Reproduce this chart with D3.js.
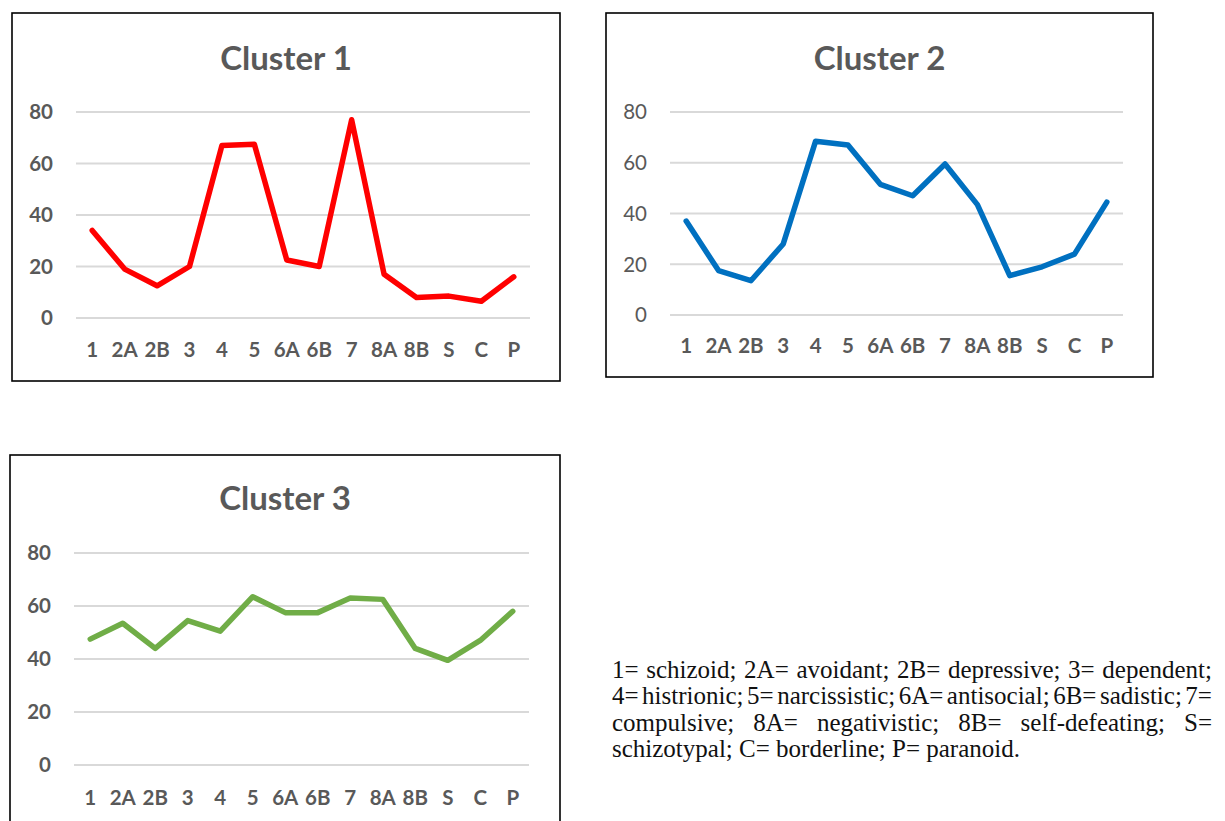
<!DOCTYPE html>
<html><head><meta charset="utf-8">
<script src="https://cdn.jsdelivr.net/npm/d3@7/dist/d3.min.js"></script>
<style>
body{margin:0;background:#fff;}
</style></head>
<body><svg id="chart" width="1225" height="821"></svg>
<script>
const categories = ["1","2A","2B","3","4","5","6A","6B","7","8A","8B","S","C","P"];
const yTicks = [0,20,40,60,80];
const cluster1 = [34,19,12.5,20,67,67.5,22.5,20,77,17,8,8.5,6.5,16];
const cluster2 = [37,17.5,13.5,28,68.5,67,51.5,47,59.5,43.5,15.5,19,24,44.5];
const cluster3 = [47.5,53.5,44,54.5,50.5,63.5,57.5,57.5,63,62.5,44,39.5,47,58];
const titles = ["Cluster 1","Cluster 2","Cluster 3"];
const colors = ["#ff0000","#0070c0","#70ad47"];
const legendLines = [
 "1= schizoid; 2A= avoidant; 2B= depressive; 3= dependent;",
 "4= histrionic; 5= narcissistic; 6A= antisocial; 6B= sadistic; 7=",
 "compulsive; 8A= negativistic; 8B= self-defeating; S=",
 "schizotypal; C= borderline; P= paranoid."
];

const panels = [
 {data:cluster1, box:[12,13,548,368], x:[76,530], y:[318,112], yBold:true, titleY:70, xlabY:357},
 {data:cluster2, box:[606,13,547,364], x:[670,1123], y:[315,112], yBold:false, titleY:70, xlabY:353},
 {data:cluster3, box:[10,455,550,400], x:[74,529], y:[765,553], yBold:true, titleY:510, xlabY:805}
];

const svg = d3.select("#chart");
const font = "Lato, 'Open Sans', sans-serif";
const gray = "#595959";

panels.forEach((p,i)=>{
  const g = svg.append("g");
  g.append("rect").attr("x",p.box[0]).attr("y",p.box[1]).attr("width",p.box[2]).attr("height",p.box[3])
   .attr("fill","#fff").attr("stroke","#000").attr("stroke-width",1.6);
  const x = d3.scalePoint().domain(categories).range(p.x).padding(0.5);
  const y = d3.scaleLinear().domain([0,80]).range(p.y);
  g.selectAll(".grid").data(yTicks).join("line")
   .attr("x1",p.x[0]).attr("x2",p.x[1]).attr("y1",d=>y(d)).attr("y2",d=>y(d))
   .attr("stroke","#d9d9d9").attr("stroke-width",2);
  g.selectAll(".yl").data(yTicks).join("text")
   .attr("x",p.x[0]-23).attr("y",d=>y(d)).attr("dy","0.36em")
   .attr("text-anchor","end").attr("font-family",font).attr("font-size",20.5)
   .attr("font-weight",p.yBold?700:400).attr("fill",gray).text(d=>d);
  g.selectAll(".xl").data(categories).join("text")
   .attr("x",d=>x(d)).attr("y",p.xlabY).attr("text-anchor","middle")
   .attr("font-family",font).attr("font-size",20.5).attr("font-weight",700).attr("fill",gray).text(d=>d);
  g.append("text").attr("x",p.box[0]+p.box[2]/2).attr("y",p.titleY).attr("text-anchor","middle")
   .attr("font-family",font).attr("font-size",33).attr("font-weight",700).attr("fill",gray).text(titles[i]);
  const line = d3.line().x((d,j)=>x(categories[j])).y(d=>y(d));
  g.append("path").datum(p.data).attr("d",line).attr("fill","none")
   .attr("stroke",colors[i]).attr("stroke-width",5.5).attr("stroke-linejoin","round").attr("stroke-linecap","round");
});

// legend (justified lines)
const legX = 612, legW = 600;
legendLines.forEach((t,i)=>{
  const txt = svg.append("text").attr("x",legX).attr("y",678+i*26.3)
    .attr("font-family","'Liberation Serif','Times New Roman',serif").attr("font-size",25)
    .attr("fill","#111").attr("xml:space","preserve").text(t);
  if(i<3){
    const w = txt.node().getComputedTextLength();
    const spaces = (t.match(/ /g)||[]).length;
    txt.attr("word-spacing",((legW-w)/spaces).toFixed(2));
  }
});
</script></body></html>
